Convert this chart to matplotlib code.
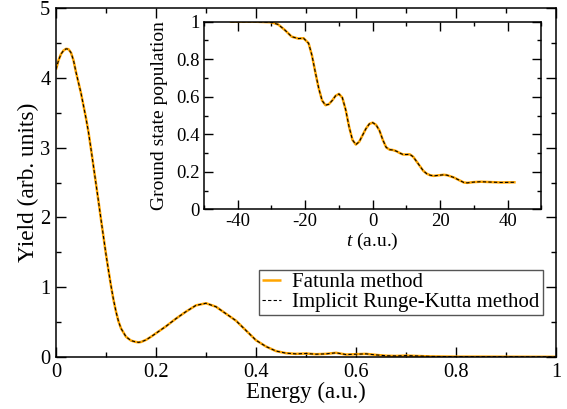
import matplotlib
matplotlib.use("Agg")
import matplotlib.pyplot as plt
from matplotlib.ticker import MultipleLocator, FuncFormatter

plt.rcParams['font.family'] = ['Liberation Serif', 'DejaVu Serif']
plt.rcParams['mathtext.fontset'] = 'custom'
plt.rcParams['mathtext.it'] = 'Liberation Serif:italic'
plt.rcParams['mathtext.rm'] = 'Liberation Serif'
plt.rcParams['axes.unicode_minus'] = False

# Main spectrum
energy = [0.0, 0.005, 0.01, 0.015, 0.02, 0.025, 0.03, 0.035, 0.04, 0.045, 0.05,
          0.055, 0.06, 0.065, 0.07, 0.075, 0.08, 0.085, 0.09, 0.095, 0.10, 0.105,
          0.11, 0.115, 0.12, 0.125, 0.13, 0.14, 0.15, 0.16, 0.165, 0.17, 0.18,
          0.19, 0.20, 0.22, 0.24, 0.26, 0.28, 0.30, 0.32, 0.34, 0.36, 0.38, 0.40,
          0.42, 0.44, 0.46, 0.48, 0.50, 0.52, 0.54, 0.56, 0.58, 0.60, 0.62, 0.64,
          0.66, 0.68, 0.70, 0.75, 0.80, 0.85, 0.90, 0.95, 1.0]
yield_fatunla = [4.12, 4.25, 4.34, 4.39, 4.415, 4.41, 4.36, 4.25, 4.08, 3.93, 3.78,
                 3.60, 3.42, 3.22, 2.98, 2.73, 2.48, 2.23, 1.97, 1.72, 1.47, 1.24,
                 1.02, 0.82, 0.65, 0.51, 0.41, 0.29, 0.235, 0.215, 0.21, 0.215, 0.245,
                 0.29, 0.34, 0.44, 0.55, 0.65, 0.74, 0.77, 0.72, 0.62, 0.52, 0.38, 0.24,
                 0.15, 0.085, 0.055, 0.045, 0.05, 0.04, 0.045, 0.06, 0.035, 0.04, 0.045, 0.03,
                 0.018, 0.015, 0.02, 0.008, 0.005, 0.005, 0.004, 0.003, 0.003]
yield_irk = list(yield_fatunla)

# Inset: ground state population
time_au = [-42, -35, -30, -28, -26, -24, -22, -20.5, -19, -18, -17, -16, -15, -14,
           -13, -12, -11, -10, -9, -8, -7, -6, -5, -4, -3, -2, -1, 0, 1, 2, 3, 4,
           5, 6, 7, 8, 9, 10, 11, 12, 13, 14, 15, 16, 17, 18, 20, 21, 22, 24, 26,
           27, 28, 30, 32, 35, 38, 42]
pop_fatunla = [1.0, 1.0, 0.997, 0.985, 0.955, 0.92, 0.91, 0.912, 0.885, 0.82, 0.73,
               0.645, 0.58, 0.555, 0.56, 0.58, 0.605, 0.615, 0.595, 0.53, 0.44, 0.37,
               0.345, 0.36, 0.395, 0.43, 0.455, 0.462, 0.45, 0.42, 0.37, 0.33, 0.318,
               0.316, 0.31, 0.30, 0.292, 0.292, 0.293, 0.28, 0.255, 0.23, 0.205, 0.19,
               0.182, 0.178, 0.182, 0.184, 0.182, 0.17, 0.152, 0.143, 0.141, 0.145,
               0.147, 0.145, 0.143, 0.144]
pop_irk = list(pop_fatunla)

labels = ["Fatunla method", "Implicit Runge-Kutta method"]

fmt = FuncFormatter(lambda v, p: "%g" % round(v, 6))

fig = plt.figure(figsize=(5.67, 4.09), dpi=100)
ax = fig.add_axes([56/567, 52/409, 500/567, 349/409])
ax.plot(energy, yield_fatunla, color='#FFA500', lw=1.8, label=labels[0], solid_capstyle='butt')
ax.plot(energy, yield_irk, color='black', lw=0.8, ls=(0, (3, 2)), label=labels[1])
ax.set_xlim(0, 1)
ax.set_ylim(0, 5)
ax.xaxis.set_major_locator(MultipleLocator(0.2))
ax.xaxis.set_minor_locator(MultipleLocator(0.1))
ax.yaxis.set_major_locator(MultipleLocator(1))
ax.yaxis.set_minor_locator(MultipleLocator(0.5))
ax.xaxis.set_major_formatter(fmt)
ax.yaxis.set_major_formatter(fmt)
ax.tick_params(which='both', direction='in', top=True, right=True, labelsize=14.8, width=1.0)
ax.tick_params(which='major', length=7)
ax.tick_params(which='minor', length=3.5)
ax.tick_params(axis='x', pad=4)
ax.tick_params(axis='y', pad=4)
for s in ax.spines.values():
    s.set_linewidth(1.1)
ax.set_xlabel("Energy (a.u.)", fontsize=16.5, labelpad=0.5)
ax.set_ylabel("Yield (arb. units)", fontsize=16.8, labelpad=1)
leg = ax.legend(loc='lower right', bbox_to_anchor=(0.974, 0.12), borderaxespad=0,
                fontsize=15, fancybox=False, edgecolor='#555555', framealpha=1,
                handlelength=0.9, handletextpad=0.55, borderpad=0.15, labelspacing=0.0)
leg.get_frame().set_linewidth(1.0)

ins = fig.add_axes([204/567, (409-209.3)/409, 337.4/567, 187.6/409])
ins.plot(time_au, pop_fatunla, color='#FFA500', lw=1.8)
ins.plot(time_au, pop_irk, color='black', lw=0.8, ls=(0, (3, 2)))
ins.set_xlim(-50, 50)
ins.set_ylim(0, 1)
ins.xaxis.set_major_locator(MultipleLocator(20))
ins.xaxis.set_minor_locator(MultipleLocator(10))
ins.yaxis.set_major_locator(MultipleLocator(0.2))
ins.yaxis.set_minor_locator(MultipleLocator(0.1))
ins.xaxis.set_major_formatter(fmt)
ins.yaxis.set_major_formatter(fmt)
ins.tick_params(which='both', direction='in', top=True, right=True, labelsize=13.5, width=1.0)
ins.tick_params(which='major', length=6.5)
ins.tick_params(which='minor', length=3.2)
ins.tick_params(axis='x', pad=3)
ins.tick_params(axis='y', pad=3)
for s in ins.spines.values():
    s.set_linewidth(1.1)
ins.set_xlabel("$t$ (a.u.)", fontsize=14, labelpad=0.5)
ins.set_ylabel("Ground state population", fontsize=14, labelpad=6)

fig.savefig("out.png", dpi=100)
